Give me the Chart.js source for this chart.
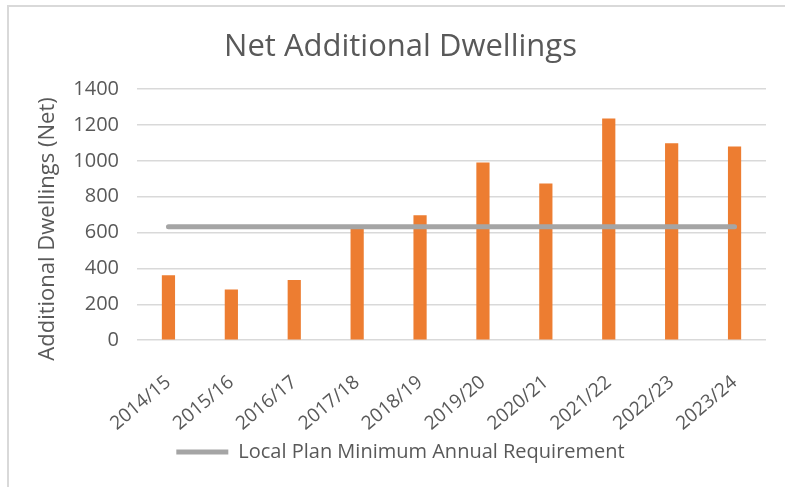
<!DOCTYPE html>
<html>
<head>
<meta charset="utf-8">
<script src="https://cdn.jsdelivr.net/npm/chart.js@4"></script>
<style>
  body { margin: 0; background: #fff; }
  #wrap { position: relative; width: 785px; height: 487px; }
  #frame { position: absolute; left: 7px; top: 5px; right: 0; bottom: 0;
           border-top: 2px solid #d9d9d9; border-left: 2px solid #d9d9d9; }
  canvas { position: absolute; left: 0; top: 0; }
</style>
</head>
<body>
<div id="wrap">
  <div id="frame"></div>
  <canvas id="chart" width="785" height="487"></canvas>
</div>
<script>
// data
const years = ['2014/15', '2015/16', '2016/17', '2017/18', '2018/19',
               '2019/20', '2020/21', '2021/22', '2022/23', '2023/24'];
const netDwellings = [362, 283, 335, 625, 697, 991, 874, 1236, 1099, 1080];
const minRequirement = [632, 632, 632, 632, 632, 632, 632, 632, 632, 632];

const FONT = "'Open Sans', sans-serif";
const TEXT = '#595959';

const ctx = document.getElementById('chart').getContext('2d');
new Chart(ctx, {
    data: {
        labels: years,
        datasets: [
            {
                type: 'line',
                label: 'Local Plan Minimum Annual Requirement',
                data: minRequirement,
                borderColor: '#a5a5a5',
                backgroundColor: '#a5a5a5',
                borderWidth: 5,
                borderCapStyle: 'round',
                pointRadius: 0,
                order: 0
            },
            {
                type: 'bar',
                label: 'Net Additional Dwellings',
                data: netDwellings,
                backgroundColor: '#ed7d31',
                barPercentage: 0.21,
                categoryPercentage: 1,
                order: 1
            }
        ]
    },
    options: {
        responsive: false,
        animation: false,
        layout: { padding: { left: 35, right: 19, top: 14, bottom: 15 } },
        plugins: {
            title: {
                display: true,
                text: 'Net Additional Dwellings',
                color: TEXT,
                font: { family: FONT, size: 31, weight: 'normal' },
                padding: { top: 15, bottom: 23 }
            },
            legend: {
                position: 'bottom',
                labels: {
                    color: TEXT,
                    font: { family: FONT, size: 20 },
                    usePointStyle: true,
                    pointStyle: 'line',
                    pointStyleWidth: 52,
                    padding: 6,
                    filter: (item) => item.datasetIndex === 0
                }
            },
            tooltip: { enabled: false }
        },
        scales: {
            x: {
                grid: { display: false },
                border: { display: false },
                ticks: {
                    color: TEXT,
                    font: { family: FONT, size: 19 },
                    minRotation: 40,
                    maxRotation: 40,
                    padding: 23
                },
                afterFit: (scale) => { scale.height -= 22; }
            },
            y: {
                min: 0,
                max: 1400,
                ticks: {
                    stepSize: 200,
                    color: TEXT,
                    font: { family: FONT, size: 20 },
                    padding: 18,
                    callback: (v) => String(v)
                },
                grid: { color: '#d9d9d9', lineWidth: 1.5, drawTicks: false },
                border: { display: false },
                title: {
                    display: true,
                    // trailing spaces nudge the label below the plot centre, as in the original
                    text: 'Additional Dwellings (Net)     ',
                    color: TEXT,
                    font: { family: FONT, size: 22 },
                    padding: 0
                },
                afterFit: (scale) => { scale.width = 102; }
            }
        }
    }
});
</script>
</body>
</html>
